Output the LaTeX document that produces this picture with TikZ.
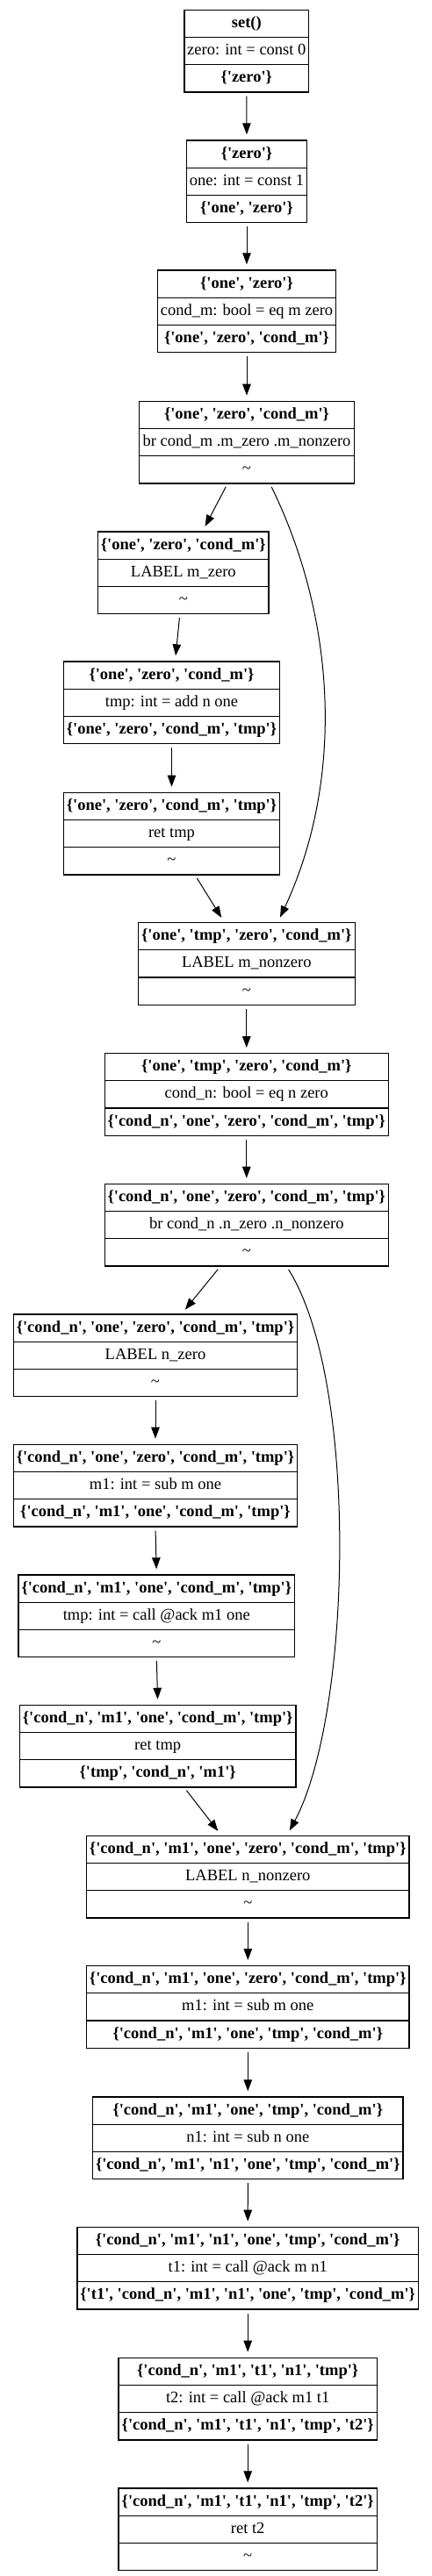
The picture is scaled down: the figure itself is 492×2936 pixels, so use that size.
\documentclass[tikz,border=0pt]{standalone}
\usepackage{fontspec}
\newfontfamily\gvfont{Liberation Serif}
\usetikzlibrary{shapes.multipart,arrows.meta}
% strut that gives every row of a block the same height
\newcommand\rs{\rule[-6pt]{0pt}{21pt}}
% block: name, width, top centre, entry set, instruction, exit set
\newcommand\block[6]{\node[rec, minimum width=#2] (#1) at (#3) {\rs#4\nodepart{two}\rs#5\nodepart{three}\rs#6};}

\begin{document}
\begin{tikzpicture}[x=1pt, y=-1pt,
  rec/.style={rectangle split, rectangle split parts=3, draw, line width=1.2pt, anchor=north,
    inner xsep=2pt, inner ysep=4.5pt, font=\gvfont\fontsize{18.5}{22}\selectfont},
  flow/.style={line width=1pt, -{Triangle[length=13pt, width=9.5pt]}, shorten <=4pt, shorten >=6pt}]
\useasboundingbox (0,0) rectangle (492,2936);

% Blocks of the CFG, top to bottom
\block{set}{141.7pt}{280.8,10.7}{\textbf{set()}}{zero: int = const 0}{\textbf{\{'zero'\}}}
\block{one}{136.6pt}{281,159.3}{\textbf{\{'zero'\}}}{one: int = const 1}{\textbf{\{'one', 'zero'\}}}
\block{condm}{203.4pt}{281,307.3}{\textbf{\{'one', 'zero'\}}}{cond\_m: bool = eq m zero}{\textbf{\{'one', 'zero', 'cond\_m'\}}}
\block{brm}{244.6pt}{281,456.7}{\textbf{\{'one', 'zero', 'cond\_m'\}}}{br cond\_m .m\_zero .m\_nonzero}{\textasciitilde}
\block{mzero}{194.3pt}{208.8,605.3}{\textbf{\{'one', 'zero', 'cond\_m'\}}}{LABEL m\_zero}{\textasciitilde}
\block{addtmp}{246.4pt}{195.5,753.3}{\textbf{\{'one', 'zero', 'cond\_m'\}}}{tmp: int = add n one}{\textbf{\{'one', 'zero', 'cond\_m', 'tmp'\}}}
\block{rettmp}{246.4pt}{195.5,902.7}{\textbf{\{'one', 'zero', 'cond\_m', 'tmp'\}}}{ret tmp}{\textasciitilde}
\block{mnonzero}{247pt}{280.8,1051}{\textbf{\{'one', 'tmp', 'zero', 'cond\_m'\}}}{LABEL m\_nonzero}{\textasciitilde}
\block{condn}{323pt}{280.8,1200}{\textbf{\{'one', 'tmp', 'zero', 'cond\_m'\}}}{cond\_n: bool = eq n zero}{\textbf{\{'cond\_n', 'one', 'zero', 'cond\_m', 'tmp'\}}}
\block{brn}{323pt}{280.8,1348.7}{\textbf{\{'cond\_n', 'one', 'zero', 'cond\_m', 'tmp'\}}}{br cond\_n .n\_zero .n\_nonzero}{\textasciitilde}
\block{nzero}{322.6pt}{177,1497.3}{\textbf{\{'cond\_n', 'one', 'zero', 'cond\_m', 'tmp'\}}}{LABEL n\_zero}{\textasciitilde}
\block{subm}{322.6pt}{177,1645.7}{\textbf{\{'cond\_n', 'one', 'zero', 'cond\_m', 'tmp'\}}}{m1: int = sub m one}{\textbf{\{'cond\_n', 'm1', 'one', 'cond\_m', 'tmp'\}}}
\block{calltmp}{314.7pt}{178.3,1794.3}{\textbf{\{'cond\_n', 'm1', 'one', 'cond\_m', 'tmp'\}}}{tmp: int = call @ack m1 one}{\textasciitilde}
\block{retn}{314.7pt}{179.7,1942.7}{\textbf{\{'cond\_n', 'm1', 'one', 'cond\_m', 'tmp'\}}}{ret tmp}{\textbf{\{'tmp', 'cond\_n', 'm1'\}}}
\block{nnonzero}{367.3pt}{282.3,2091.7}{\textbf{\{'cond\_n', 'm1', 'one', 'zero', 'cond\_m', 'tmp'\}}}{LABEL n\_nonzero}{\textasciitilde}
\block{subm1}{367.3pt}{282.3,2240}{\textbf{\{'cond\_n', 'm1', 'one', 'zero', 'cond\_m', 'tmp'\}}}{m1: int = sub m one}{\textbf{\{'cond\_n', 'm1', 'one', 'tmp', 'cond\_m'\}}}
\block{subn}{353.3pt}{282.3,2389.3}{\textbf{\{'cond\_n', 'm1', 'one', 'tmp', 'cond\_m'\}}}{n1: int = sub n one}{\textbf{\{'cond\_n', 'm1', 'n1', 'one', 'tmp', 'cond\_m'\}}}
\block{callt1}{388.3pt}{282.2,2537.7}{\textbf{\{'cond\_n', 'm1', 'n1', 'one', 'tmp', 'cond\_m'\}}}{t1: int = call @ack m n1}{\textbf{\{'t1', 'cond\_n', 'm1', 'n1', 'one', 'tmp', 'cond\_m'\}}}
\block{callt2}{294.3pt}{282.2,2686.7}{\textbf{\{'cond\_n', 'm1', 't1', 'n1', 'tmp'\}}}{t2: int = call @ack m1 t1}{\textbf{\{'cond\_n', 'm1', 't1', 'n1', 'tmp', 't2'\}}}
\block{rett2}{294.3pt}{282.2,2835.3}{\textbf{\{'cond\_n', 'm1', 't1', 'n1', 'tmp', 't2'\}}}{ret t2}{\textasciitilde}

% Edges
\draw[flow] (set.south) -- (one.north);
\draw[flow] (one.south) -- (condm.north);
\draw[flow] (condm.south) -- (brm.north);
\draw[flow] ([xshift=-22pt]brm.south) -- ([xshift=22pt]mzero.north);
\draw[flow] ([xshift=26.5pt]brm.south) to[out=-64, in=65, looseness=0.9] ([xshift=35.7pt]mnonzero.north);
\draw[flow] ([xshift=-4pt]mzero.south) -- ([xshift=4pt]addtmp.north);
\draw[flow] (addtmp.south) -- (rettmp.north);
\draw[flow] ([xshift=26.7pt]rettmp.south) -- ([xshift=-25.4pt]mnonzero.north);
\draw[flow] (mnonzero.south) -- (condn.north);
\draw[flow] (condn.south) -- (brn.north);
\draw[flow] ([xshift=-30pt]brn.south) -- ([xshift=30pt]nzero.north);
\draw[flow] ([xshift=45.7pt]brn.south) to[out=-58, in=62, looseness=0.62] ([xshift=44.7pt]nnonzero.north);
\draw[flow] (nzero.south) -- (subm.north);
\draw[flow] (subm.south) -- (calltmp.north);
\draw[flow] (calltmp.south) -- (retn.north);
\draw[flow] ([xshift=30.3pt]retn.south) -- ([xshift=-30.3pt]nnonzero.north);
\draw[flow] (nnonzero.south) -- (subm1.north);
\draw[flow] (subm1.south) -- (subn.north);
\draw[flow] (subn.south) -- (callt1.north);
\draw[flow] (callt1.south) -- (callt2.north);
\draw[flow] (callt2.south) -- (rett2.north);
\end{tikzpicture}
\end{document}
